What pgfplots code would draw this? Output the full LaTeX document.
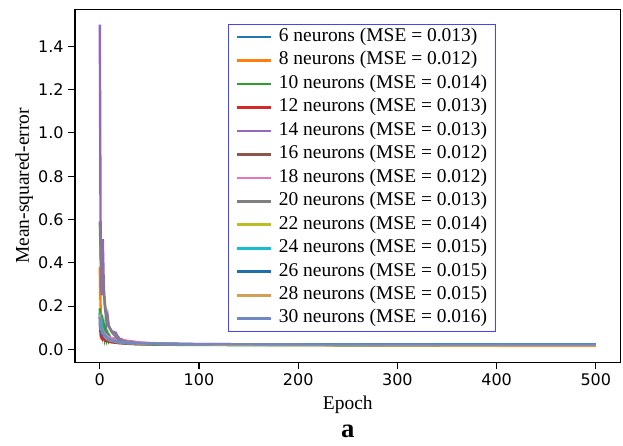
\documentclass[border=0pt]{standalone}
\usepackage{pgfplots}
\pgfplotsset{compat=1.18}
\usepackage{pgfplotstable}
\usepackage{fontspec}
\setmainfont{Liberation Serif}
\newfontfamily\ticksans{DejaVu Sans}

\definecolor{c0}{HTML}{1F77B4}
\definecolor{c1}{HTML}{FF7F0E}
\definecolor{c2}{HTML}{2CA02C}
\definecolor{c3}{HTML}{D62728}
\definecolor{c4}{HTML}{9467BD}
\definecolor{c5}{HTML}{8C564B}
\definecolor{c6}{HTML}{E377C2}
\definecolor{c7}{HTML}{7F7F7F}
\definecolor{c8}{HTML}{BCBD22}
\definecolor{c9}{HTML}{17BECF}
\definecolor{c10}{HTML}{1F6FAE}
\definecolor{c11}{HTML}{D2A055}
\definecolor{c12}{HTML}{7088C6}
\definecolor{legblue}{HTML}{4444FF}

\pgfplotstableread{
e   n6    n8    n10   n12   n14   n16   n18   n20   n22   n24   n26   n28   n30
0   0.17  0.38  0.19  0.12  1.50  0.15  0.16  0.59  0.14  0.17  0.13  0.16  0.15
1   0.10  0.15  0.12  0.06  0.30  0.10  0.12  0.42  0.09  0.11  0.09  0.10  0.11
2   0.08  0.10  0.16  0.05  0.25  0.08  0.10  0.36  0.08  0.12  0.07  0.09  0.09
3   0.07  0.09  0.08  0.045 0.51  0.07  0.09  0.30  0.07  0.08  0.065 0.075 0.08
4   0.065 0.08  0.11  0.05  0.30  0.06  0.08  0.26  0.065 0.07  0.06  0.07  0.07
5   0.06  0.07  0.06  0.045 0.20  0.055 0.075 0.22  0.06  0.065 0.055 0.06  0.065
6   0.055 0.065 0.09  0.04  0.16  0.05  0.07  0.18  0.055 0.06  0.05  0.055 0.06
7   0.05  0.06  0.05  0.04  0.12  0.048 0.065 0.15  0.05  0.055 0.048 0.05  0.055
8   0.048 0.055 0.07  0.038 0.15  0.045 0.06  0.13  0.048 0.05  0.045 0.048 0.05
9   0.045 0.05  0.045 0.036 0.11  0.043 0.058 0.11  0.045 0.048 0.042 0.045 0.048
10  0.042 0.048 0.06  0.035 0.10  0.04  0.055 0.10  0.042 0.045 0.04  0.042 0.045
12  0.04  0.045 0.04  0.033 0.085 0.038 0.052 0.08  0.04  0.042 0.038 0.04  0.042
14  0.038 0.042 0.05  0.032 0.08  0.036 0.05  0.07  0.038 0.04  0.036 0.038 0.04
16  0.036 0.04  0.035 0.031 0.078 0.035 0.048 0.06  0.036 0.038 0.034 0.036 0.038
18  0.034 0.038 0.04  0.03  0.06  0.033 0.046 0.05  0.034 0.036 0.033 0.034 0.036
20  0.033 0.036 0.03  0.029 0.05  0.032 0.045 0.045 0.033 0.034 0.032 0.033 0.034
23  0.031 0.034 0.032 0.028 0.045 0.031 0.043 0.04  0.031 0.032 0.03  0.031 0.032
26  0.03  0.032 0.028 0.027 0.04  0.03  0.041 0.037 0.03  0.031 0.029 0.03  0.031
30  0.029 0.031 0.027 0.026 0.036 0.029 0.039 0.034 0.029 0.03  0.028 0.029 0.03
35  0.028 0.03  0.025 0.025 0.033 0.028 0.036 0.031 0.028 0.029 0.027 0.028 0.029
40  0.027 0.029 0.024 0.025 0.031 0.027 0.033 0.029 0.027 0.028 0.027 0.027 0.028
50  0.026 0.027 0.023 0.024 0.028 0.026 0.03  0.027 0.026 0.027 0.026 0.026 0.027
60  0.025 0.026 0.022 0.024 0.027 0.025 0.028 0.026 0.025 0.026 0.025 0.025 0.026
70  0.025 0.025 0.022 0.023 0.026 0.025 0.027 0.025 0.025 0.025 0.025 0.024 0.025
85  0.024 0.024 0.021 0.023 0.025 0.024 0.026 0.024 0.024 0.025 0.024 0.024 0.025
100 0.024 0.023 0.021 0.023 0.025 0.024 0.025 0.024 0.024 0.024 0.024 0.023 0.024
150 0.023 0.022 0.02  0.022 0.024 0.023 0.024 0.023 0.023 0.024 0.023 0.022 0.024
200 0.023 0.021 0.02  0.022 0.023 0.023 0.023 0.022 0.022 0.024 0.023 0.021 0.023
250 0.022 0.02  0.019 0.022 0.023 0.022 0.023 0.022 0.022 0.024 0.023 0.02  0.023
300 0.022 0.02  0.019 0.021 0.022 0.022 0.022 0.021 0.021 0.024 0.023 0.019 0.023
350 0.022 0.019 0.019 0.021 0.022 0.021 0.022 0.021 0.021 0.024 0.023 0.018 0.023
400 0.021 0.018 0.019 0.021 0.022 0.021 0.022 0.021 0.02  0.024 0.023 0.017 0.023
450 0.021 0.018 0.019 0.021 0.021 0.021 0.021 0.02  0.02  0.024 0.023 0.016 0.023
500 0.021 0.017 0.019 0.021 0.021 0.021 0.021 0.02  0.02  0.024 0.023 0.016 0.023
}\msedata

\begin{document}
\begin{tikzpicture}
\path[use as bounding box] (-56.25pt,-62.6pt) rectangle (411pt,271.85pt);
\begin{axis}[
  name=mainax,
  scale only axis,
  width=409.2pt, height=264.75pt,
  xmin=-25, xmax=525, ymin=-0.06, ymax=1.57,
  xtick={0,100,200,300,400,500},
  ytick={0,0.2,0.4,0.6,0.8,1.0,1.2,1.4},
  scaled y ticks=false,
  yticklabel style={/pgf/number format/.cd, fixed, fixed zerofill, precision=1},
  /pgf/number format/assume math mode=true,
  tick label style={font=\ticksans\fontsize{12}{14}\selectfont},
  tick align=outside,
  major tick length=5pt,
  xtick pos=bottom, ytick pos=left,
  tick style={black, line width=0.8pt},
  axis line style={black, line width=1pt},
  xlabel={Epoch},
  ylabel={Mean-squared-error},
  xlabel style={font=\fontsize{14.6}{16}\selectfont, at={(axis description cs:0.5,-0.119)}, anchor=center},
  ylabel style={font=\fontsize{14.6}{16}\selectfont, at={(axis description cs:-0.093,0.5)}, anchor=center},
  legend cell align=left,
  legend image code/.code={\draw[#1, line width=2pt] (0pt,0pt) -- (26pt,0pt);},
  legend style={at={(axis description cs:0.281,0.959)}, anchor=north west,
    draw=legblue, line width=0.75pt, fill=white,
    font=\fontsize{14.6}{16}\selectfont,
    inner xsep=5pt, inner ysep=1.2pt, row sep=1.1pt,
    nodes={inner sep=1.5pt, text height=10pt, text depth=3.5pt},
    /tikz/every odd column/.append style={column sep=3pt}},
  every axis plot/.append style={line width=1.8pt},
]
\addplot[c0] table[x=e,y=n6]{\msedata}; \addlegendentry{6 neurons (MSE = 0.013)}
\addplot[c1] table[x=e,y=n8]{\msedata}; \addlegendentry{8 neurons (MSE = 0.012)}
\addplot[c2] table[x=e,y=n10]{\msedata}; \addlegendentry{10 neurons (MSE = 0.014)}
\addplot[c3] table[x=e,y=n12]{\msedata}; \addlegendentry{12 neurons (MSE = 0.013)}
\addplot[c4] table[x=e,y=n14]{\msedata}; \addlegendentry{14 neurons (MSE = 0.013)}
\addplot[c5] table[x=e,y=n16]{\msedata}; \addlegendentry{16 neurons (MSE = 0.012)}
\addplot[c6] table[x=e,y=n18]{\msedata}; \addlegendentry{18 neurons (MSE = 0.012)}
\addplot[c7] table[x=e,y=n20]{\msedata}; \addlegendentry{20 neurons (MSE = 0.013)}
\addplot[c8] table[x=e,y=n22]{\msedata}; \addlegendentry{22 neurons (MSE = 0.014)}
\addplot[c9] table[x=e,y=n24]{\msedata}; \addlegendentry{24 neurons (MSE = 0.015)}
\addplot[c10] table[x=e,y=n26]{\msedata}; \addlegendentry{26 neurons (MSE = 0.015)}
\addplot[c11] table[x=e,y=n28]{\msedata}; \addlegendentry{28 neurons (MSE = 0.015)}
\addplot[c12] table[x=e,y=n30]{\msedata}; \addlegendentry{30 neurons (MSE = 0.016)}
\end{axis}
\node[font=\bfseries\fontsize{20}{22}\selectfont, anchor=center] at ([yshift=-52pt]mainax.south) {a};
\end{tikzpicture}
\end{document}
